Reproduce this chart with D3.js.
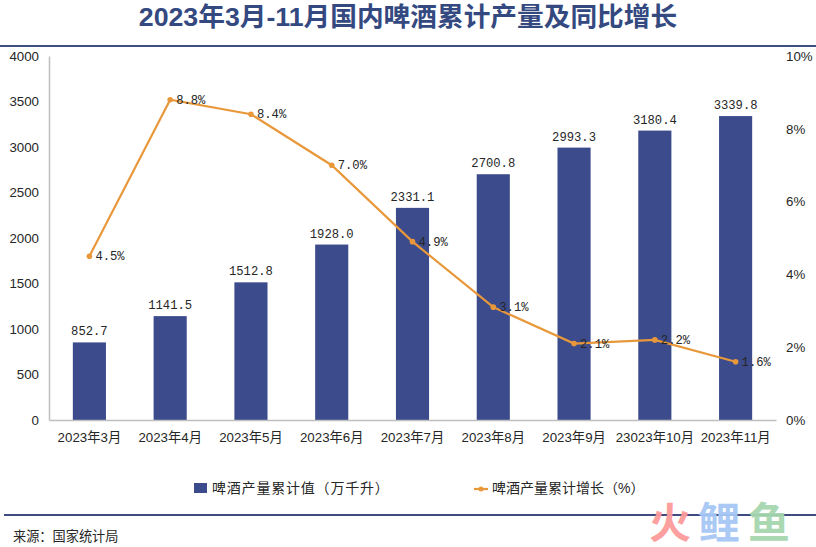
<!DOCTYPE html>
<html>
<head>
<meta charset="utf-8">
<title>2023年3月-11月国内啤酒累计产量及同比增长</title>
<script src="https://d3js.org/d3.v7.min.js"></script>
<style>
body { margin: 0; background: #fff; }
svg { display: block; }
text { font-family: "Liberation Sans", "Noto Sans CJK SC", sans-serif; fill: #262626; }
.val { font-family: "Liberation Mono", "Noto Sans CJK SC", monospace; font-size: 12.2px; }
</style>
</head>
<body>
<svg id="chart" width="816" height="547"></svg>
<script>
var months = ["2023年3月", "2023年4月", "2023年5月", "2023年6月", "2023年7月", "2023年8月", "2023年9月", "23023年10月", "2023年11月"];
var output = [852.7, 1141.5, 1512.8, 1928.0, 2331.1, 2700.8, 2993.3, 3180.4, 3339.8];
var growth = [4.5, 8.8, 8.4, 7.0, 4.9, 3.1, 2.1, 2.2, 1.6];
var leftTicks = [0, 500, 1000, 1500, 2000, 2500, 3000, 3500, 4000];
var rightTicks = [0, 2, 4, 6, 8, 10];
var titleText = "2023年3月-11月国内啤酒累计产量及同比增长";
var barName = "啤酒产量累计值（万千升）";
var lineName = "啤酒产量累计增长（%）";
var sourceText = "来源：国家统计局";

var navy = "#3b4b8c", orange = "#e8983a";
var svg = d3.select("#chart");

var x = d3.scaleBand().domain(months).range([49, 776]).paddingInner(0.59).paddingOuter(0.295);
var y = d3.scaleLinear().domain([0, 4000]).range([420, 56]);
var y2 = d3.scaleLinear().domain([0, 10]).range([420, 56]);

// title and rules
svg.append("text").attr("x", 408).attr("y", 26).attr("text-anchor", "middle")
    .attr("font-size", 26.7).attr("font-weight", "bold").style("fill", "#34497f").text(titleText);
svg.append("line").attr("x1", 0).attr("x2", 816).attr("y1", 46).attr("y2", 46)
    .attr("stroke", "#3f4f84").attr("stroke-width", 2);
svg.append("line").attr("x1", 4).attr("x2", 816).attr("y1", 515).attr("y2", 515)
    .attr("stroke", "#3f4a80").attr("stroke-width", 2);

// bars
svg.selectAll("rect.bar").data(months).enter().append("rect").attr("class", "bar")
    .attr("x", d => x(d)).attr("width", x.bandwidth())
    .attr("y", (d, i) => y(output[i])).attr("height", (d, i) => 420 - y(output[i]))
    .attr("fill", navy);

// axes
var ax = svg.append("g").attr("transform", "translate(0,420)")
    .call(d3.axisBottom(x).tickSize(0).tickPadding(13));
var ay = svg.append("g").attr("transform", "translate(49,0)")
    .call(d3.axisLeft(y).tickValues(leftTicks).tickSize(0).tickPadding(10).tickFormat(d3.format("d")));
var ay2 = svg.append("g").attr("transform", "translate(776,0)")
    .call(d3.axisRight(y2).tickValues(rightTicks).tickSize(0).tickPadding(10).tickFormat(d => d + "%"));
[ax, ay, ay2].forEach(function(g) {
    g.attr("font-family", null).attr("font-size", null);
    g.selectAll("text").attr("font-size", 13.3);
});
ax.select(".domain").attr("stroke", "#bfbfbf").attr("stroke-width", 1.5);
ay.select(".domain").attr("stroke", "#bfbfbf").attr("stroke-width", 1.5);
ay2.select(".domain").remove();

// line
var cx = d => x(d) + x.bandwidth() / 2;
var line = d3.line().x(d => cx(d)).y((d, i) => y2(growth[i]));
svg.append("path").datum(months).attr("d", line).attr("fill", "none")
    .attr("stroke", orange).attr("stroke-width", 2.2);
svg.selectAll("circle.pt").data(months).enter().append("circle").attr("class", "pt")
    .attr("cx", cx).attr("cy", (d, i) => y2(growth[i])).attr("r", 2.8).attr("fill", orange);

// value labels
svg.selectAll("text.barval").data(months).enter().append("text").attr("class", "val barval")
    .attr("x", cx).attr("y", (d, i) => y(output[i]) - 7).attr("text-anchor", "middle")
    .text((d, i) => output[i].toFixed(1));
svg.selectAll("text.lineval").data(months).enter().append("text").attr("class", "val lineval")
    .attr("x", d => cx(d) + 6).attr("y", (d, i) => y2(growth[i]) + 4)
    .text((d, i) => growth[i].toFixed(1) + "%");

// legend
svg.append("rect").attr("x", 194).attr("y", 483).attr("width", 13).attr("height", 10).attr("fill", navy);
svg.append("text").attr("x", 212).attr("y", 493).attr("font-size", 14)
    .attr("letter-spacing", 0.8).text(barName);
svg.append("line").attr("x1", 474).attr("x2", 488).attr("y1", 489).attr("y2", 489)
    .attr("stroke", orange).attr("stroke-width", 2.2);
svg.append("circle").attr("cx", 481).attr("cy", 489).attr("r", 2.5).attr("fill", orange);
svg.append("text").attr("x", 492).attr("y", 493).attr("font-size", 14).text(lineName);

// source and watermark
svg.append("text").attr("x", 13).attr("y", 541).attr("font-size", 13.2).text(sourceText);
var marks = [["火", 649, "#fb9a9a"], ["鲤", 698, "#a6c8f5"], ["鱼", 748, "#a5d6ae"]];
svg.selectAll("text.mark").data(marks).enter().append("text").attr("class", "mark")
    .attr("x", d => d[1]).attr("y", 538).attr("font-size", 42).attr("font-weight", "bold")
    .style("fill", d => d[2]).attr("opacity", 0.95).text(d => d[0]);
</script>
</body>
</html>
